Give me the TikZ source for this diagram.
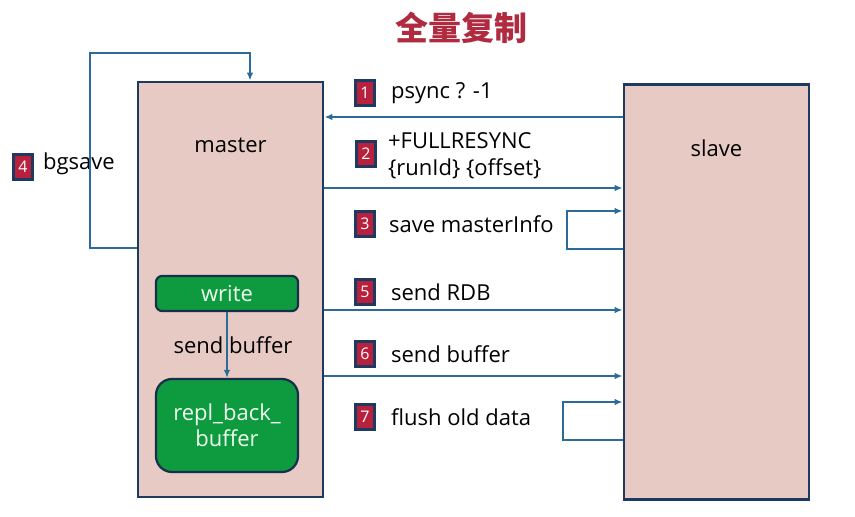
\documentclass[tikz,border=0pt]{standalone}
\usepackage{fontspec}
\setmainfont{Open Sans}
\newfontfamily\cjk{Noto Sans CJK SC}
\usetikzlibrary{arrows.meta,positioning}
\definecolor{boxfill}{HTML}{E6CAC3}
\definecolor{boxline}{HTML}{1F3A60}
\definecolor{flowline}{HTML}{2C6A9A}
\definecolor{badgered}{HTML}{B8213D}
\definecolor{bufgreen}{HTML}{0E9B3F}
\definecolor{titlered}{HTML}{B02A40}

\begin{document}
\begin{tikzpicture}[x=1pt,y=-1pt,
			box/.style={draw=boxline,line width=2.8pt,fill=boxfill,
				minimum width=185pt,minimum height=415pt,inner sep=0pt},
			gbox/.style={draw=boxline!80!black,line width=2.2pt,fill=bufgreen,
				text=green!6,rounded corners=#1,inner sep=0pt,align=center,
				font=\fontsize{22}{26}\selectfont},
			badge/.style={draw=boxline,line width=2.8pt,fill=badgered,text=white,
				minimum width=19pt,minimum height=25pt,inner sep=0pt,
				font=\fontsize{16}{16}\selectfont},
			lbl/.style={font=\fontsize{22}{27}\selectfont,inner sep=0pt,align=left},
			flow/.style={draw=flowline,line width=1.6pt,-{Latex[length=8pt,width=6.5pt]}}]
			\useasboundingbox (0,0) rectangle (855,517);
			
			\node[font=\cjk\bfseries\fontsize{33}{33}\selectfont,text=titlered] (title) at (461,28) {全量复制};
			
			\node[box,label={[lbl,anchor=center,yshift=-65pt]north:master}] (master) at (230.5,289.5) {};
			\node[box,label={[lbl,anchor=center,yshift=-65pt]north:slave}] (slave) at (716.5,292) {};
			
			\node[gbox=6pt,minimum width=142pt,minimum height=35pt] (write) at (227,293.5) {write};
			\node[gbox=16pt,minimum width=142pt,minimum height=93pt] (replbuf) at (227,425.5) {repl\_back\_\\buffer};
			\node[lbl] (sendbuf) at (233,345) {send buffer};
			\draw[flow] (write.south) -- (replbuf.north);
			
			% steps
			\node[badge] (b1) at (365,93) {1};
			\node[badge] (b2) at (366,154) {2};
			\node[badge] (b3) at (365,224) {3};
			\node[badge] (b4) at (23,167) {4};
			\node[badge] (b5) at (365,292) {5};
			\node[badge] (b6) at (365,354) {6};
			\node[badge] (b7) at (365,417) {7};
			\node[lbl,right=15pt of b1] (t1) {psync ? -1};
			\node[lbl,right=11pt of b2,yshift=-2pt] (t2) {+FULLRESYNC\\\{runId\} \{offset\}};
			\node[lbl,right=13pt of b3] (t3) {save masterInfo};
			\node[lbl,right=9pt of b4,yshift=3pt] (t4) {bgsave};
			\node[lbl,right=15pt of b5] (t5) {send RDB};
			\node[lbl,right=15pt of b6] (t6) {send buffer};
			\node[lbl,right=15pt of b7] (t7) {flush old data};
			
			\draw[flow] (slave.west |- 0,117) -- (master.east |- 0,117);
			\draw[flow] (master.east |- 0,188) -- (slave.west |- 0,188);
			\draw[flow] (slave.west |- 0,249) -| (567,211) -- (slave.west |- 0,211);
			\draw[flow] (master.west |- 0,248) -| (90,53) -| (master.north -| 250,0);
			\draw[flow] (master.east |- 0,310) -- (slave.west |- 0,310);
			\draw[flow] (master.east |- 0,376) -- (slave.west |- 0,376);
			\draw[flow] (slave.west |- 0,440) -| (563,402) -- (slave.west |- 0,402);
		\end{tikzpicture}
\end{document}
